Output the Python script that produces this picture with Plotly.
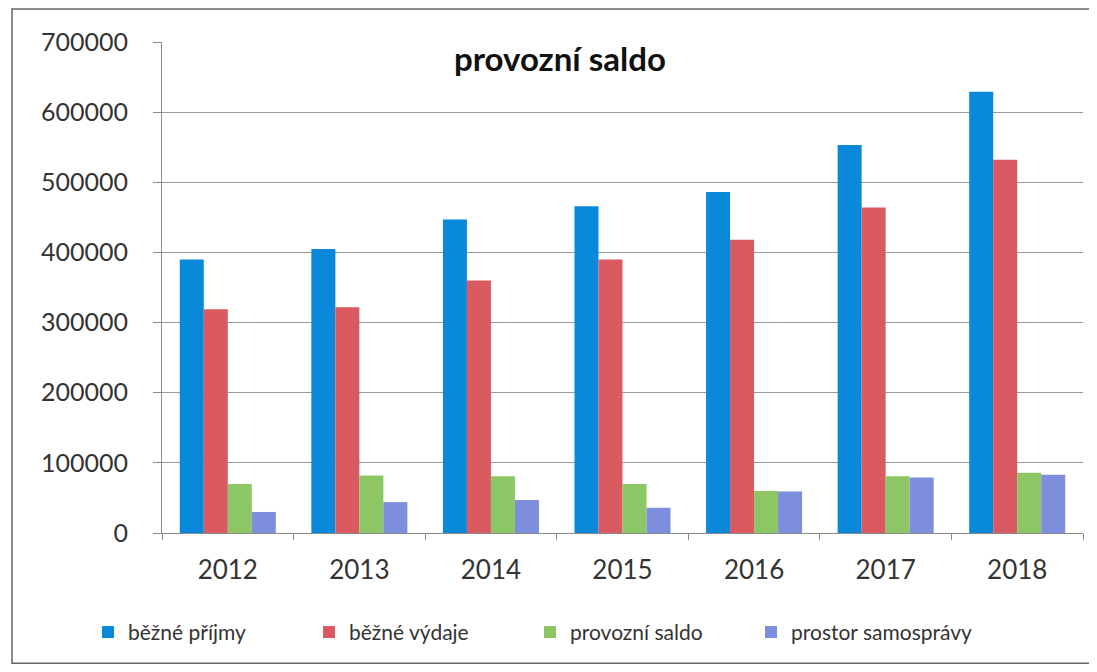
import plotly.graph_objects as go

years = ["2012", "2013", "2014", "2015", "2016", "2017", "2018"]
bezne_prijmy = [390000, 405000, 447000, 466000, 486000, 553000, 629000]
bezne_vydaje = [319000, 322000, 360000, 390000, 418000, 464000, 532000]
provozni_saldo = [70000, 82000, 81000, 70000, 60000, 81000, 86000]
prostor_samospravy = [30000, 44000, 47000, 36000, 59000, 79000, 83000]

series_names = ["běžné příjmy", "běžné výdaje", "provozní saldo", "prostor samosprávy"]
series_values = [bezne_prijmy, bezne_vydaje, provozni_saldo, prostor_samospravy]
colors = ["#0A89DA", "#D95A60", "#8DC765", "#7D8FDC"]

FONT = "Lato, 'Open Sans', sans-serif"

fig = go.Figure()
for name, vals, col in zip(series_names, series_values, colors):
    fig.add_trace(go.Bar(x=years, y=vals, name=name, marker=dict(color=col, line=dict(width=0))))

# the page body has an 8px default margin, so the figure starts at (8, 8)
OFF = 8
W, H = 1097 - OFF, 672 - OFF
# plot area in window pixels
L, R, T, B = 162, 1083, 42, 533.5
pw, ph = R - L, B - T

def px_x(x):
    return (x - L) / pw

def px_y(y):
    return (B - y) / ph

fig.update_layout(
    width=W, height=H,
    margin=dict(l=L - OFF, r=(W + OFF) - R, t=T - OFF, b=(H + OFF) - B, pad=0),
    paper_bgcolor="white", plot_bgcolor="white",
    barmode="group", bargap=0.27, bargroupgap=0,
    font=dict(family=FONT, color="#333333"),
    showlegend=True,
    legend=dict(orientation="h", x=px_x(88), y=px_y(633), xanchor="left", yanchor="middle",
                font=dict(size=21, color="#333333", family=FONT), entrywidth=176,
                itemwidth=30, bgcolor="rgba(0,0,0,0)"),
    xaxis=dict(type="category", showline=True, linecolor="#8a8a8a", linewidth=1,
               ticks="outside", tickson="boundaries", ticklen=6, tickcolor="#8a8a8a",
               tickfont=dict(size=26, color="#333333", family=FONT), showgrid=False,
               ticklabelstandoff=14),
    yaxis=dict(range=[0, 700000], dtick=100000, tickformat="d", showline=True,
               linecolor="#8a8a8a", linewidth=1, ticks="outside", ticklen=8,
               tickcolor="#8a8a8a", showgrid=True, gridcolor="#9a9a9a", gridwidth=1,
               tickfont=dict(size=25, color="#333333", family=FONT), zeroline=False,
               ticklabelstandoff=20),
    annotations=[dict(text="<b>provozní saldo</b>", x=px_x(560), y=px_y(58), xref="paper",
                      yref="paper", showarrow=False, xanchor="center", yanchor="middle",
                      font=dict(size=33, color="#111111", family=FONT))],
    shapes=[dict(type="rect", xref="paper", yref="paper", x0=px_x(12), x1=px_x(1092),
                 y0=px_y(664), y1=px_y(9), line=dict(color="#666666", width=1.5),
                 fillcolor="rgba(0,0,0,0)", layer="below")],
)

fig.write_html("out.html")
